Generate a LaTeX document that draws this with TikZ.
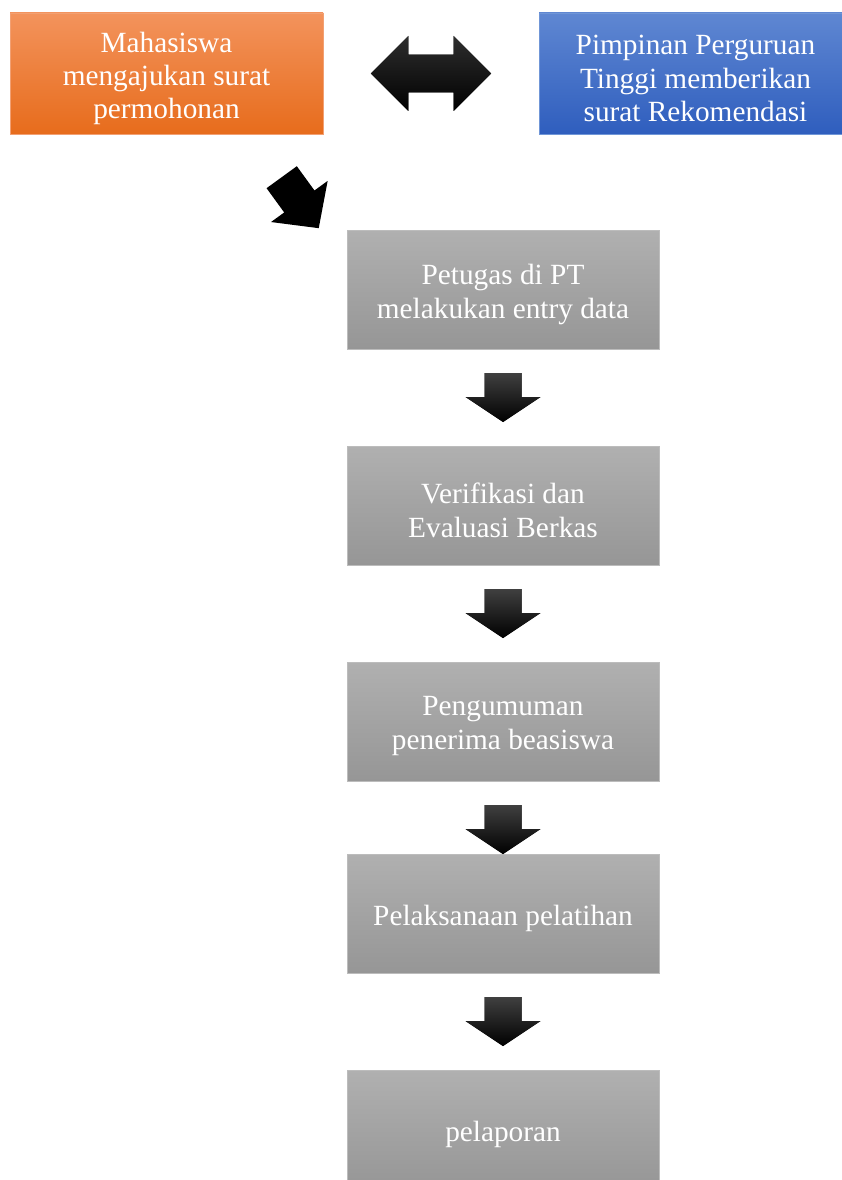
\documentclass[tikz,border=0pt]{standalone}
\usepackage{fontspec}
\setmainfont{Liberation Serif}

\definecolor{orTop}{RGB}{243,147,92}
\definecolor{orBot}{RGB}{231,108,28}
\definecolor{orLine}{RGB}{242,160,115}
\definecolor{blTop}{RGB}{95,135,210}
\definecolor{blBot}{RGB}{47,94,190}
\definecolor{blLine}{RGB}{112,150,215}
\definecolor{grTop}{RGB}{176,176,176}
\definecolor{grBot}{RGB}{150,150,150}
\definecolor{grLine}{RGB}{188,188,188}

\tikzset{
	stagebox/.style={rectangle, minimum width=312pt, minimum height=119pt, inner sep=0pt},
	boxtext/.style={align=center, text=white, yshift=-5pt, font=\fontsize{29.3}{34}\selectfont},
	graybox/.style={stagebox, top color=grTop, bottom color=grBot, draw=grLine},
	arrowfill/.style={top color=black!75, middle color=black, bottom color=black},
	pics/downarr/.style n args={4}{code={
		\fill[arrowfill] (-#1,0) -- (#1,0) -- (#1,#3) -- (#2,#3) -- (0,#4) -- (-#2,#3) -- (-#1,#3) -- cycle;
	}},
	pics/twoarr/.style={code={
		\fill[arrowfill] (-60.2,0) -- (-22.7,-37.5) -- (-22.7,-18.8) -- (22.7,-18.8) -- (22.7,-37.5) -- (60.2,0)
			-- (22.7,37.5) -- (22.7,18.8) -- (-22.7,18.8) -- (-22.7,37.5) -- cycle;
	}},
}

\begin{document}
\begin{tikzpicture}[x=1pt, y=-1pt]
	\clip (0,0) rectangle (842,1180);
	% top row
	\node[stagebox, minimum width=313pt, minimum height=121pt, top color=orTop, bottom color=orBot, draw=orLine,
		label={[boxtext, font=\fontsize{29.3}{33.3}\selectfont]center:{Mahasiswa\\mengajukan surat\\permohonan}}]
		(mhs) at (166.5,73.5) {};
	\node[stagebox, minimum width=313pt, minimum height=121pt, top color=blTop, bottom color=blBot, draw=blLine,
		label={[boxtext, font=\fontsize{29.3}{33.3}\selectfont]center:{Pimpinan Perguruan\\Tinggi memberikan\\surat Rekomendasi}}]
		(pimpinan) at (695.5,73.5) {};
	\pic (bolak) [arrowfill/.style={top color=black!82, middle color=black, bottom color=black}] at (431,73.5) {twoarr};
	\pic (miring) [rotate=36, arrowfill/.style={fill=black}] at (281.7,177.2) {downarr={18.7}{35}{30}{63}};
	% alur di PT
	\node[graybox, label={[boxtext]center:{Petugas di PT\\melakukan entry data}}] (entry) at (503,289.5) {};
	\node[graybox, label={[boxtext]center:{Verifikasi dan\\Evaluasi Berkas}}] (verif) at (503,505.5) {};
	\node[graybox, label={[boxtext]center:{Pengumuman\\penerima beasiswa}}] (umum) at (503,721.5) {};
	\node[graybox, label={[boxtext]center:{Pelaksanaan pelatihan}}] (latih) at (503,913.5) {};
	\node[graybox, label={[boxtext]center:{pelaporan}}] (lapor) at (503,1129.5) {};
	\foreach \y/\n in {373/a,589/b,805/c,997/d} {\pic (turun\n) at (503,\y) {downarr={18.5}{37.5}{24}{49}};}
\end{tikzpicture}
\end{document}
